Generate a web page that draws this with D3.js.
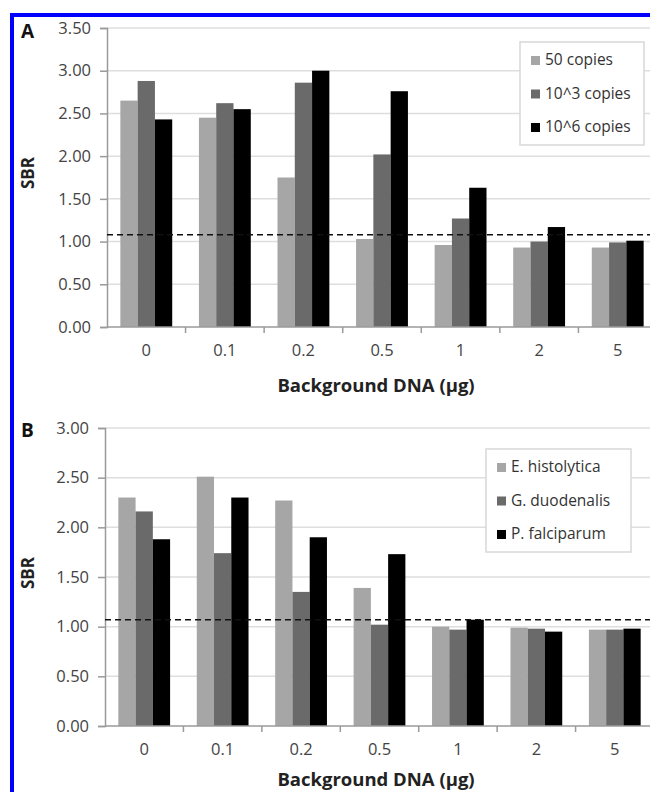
<!DOCTYPE html>
<html>
<head>
<meta charset="utf-8">
<script src="https://cdn.jsdelivr.net/npm/d3@7"></script>
<style>
  html, body { margin: 0; padding: 0; background: #fff; }
  svg { display: block; }
  text { font-family: "Open Sans", Lato, sans-serif; }
</style>
</head>
<body>
<script>
const categories = ["0", "0.1", "0.2", "0.5", "1", "2", "5"];

const seriesA = ["50 copies", "10^3 copies", "10^6 copies"];
const valuesA50 = [2.65, 2.45, 1.75, 1.03, 0.96, 0.93, 0.93];
const valuesA1e3 = [2.88, 2.62, 2.86, 2.02, 1.27, 1.00, 0.99];
const valuesA1e6 = [2.43, 2.55, 3.00, 2.76, 1.63, 1.17, 1.01];
const ticksA = [0, 0.5, 1, 1.5, 2, 2.5, 3, 3.5];
const thresholdA = 1.08;

const seriesB = ["E. histolytica", "G. duodenalis", "P. falciparum"];
const valuesBEh = [2.30, 2.51, 2.27, 1.39, 1.00, 0.99, 0.97];
const valuesBGd = [2.16, 1.74, 1.35, 1.02, 0.97, 0.98, 0.97];
const valuesBPf = [1.88, 2.30, 1.90, 1.73, 1.07, 0.95, 0.98];
const ticksB = [0, 0.5, 1, 1.5, 2, 2.5, 3];
const thresholdB = 1.07;

const colors = ["#a6a6a6", "#6a6a6a", "#000000"];
const xTitle = "Background DNA (µg)";

const W = 650, H = 792;
const svg = d3.select("body").append("svg").attr("width", W).attr("height", H);
svg.append("rect").attr("width", W).attr("height", H).attr("fill", "#fff");

function panel(cfg) {
  const g = svg.append("g");
  const x = d3.scaleBand().domain(categories).range([cfg.left, cfg.right]).paddingInner(0.34).paddingOuter(0.17);
  const y = d3.scaleLinear().domain([0, cfg.max]).range([cfg.bottom, cfg.top]);
  const inner = d3.scaleBand().domain(cfg.series).range([0, x.bandwidth()]);

  // gridlines
  g.selectAll(".grid").data(cfg.ticks.filter(t => t > 0)).join("line")
    .attr("x1", cfg.left).attr("x2", W)
    .attr("y1", d => y(d)).attr("y2", d => y(d))
    .attr("stroke", "#dedede").attr("stroke-width", 1.5);

  // bars
  const data = cfg.series.map((s, i) => ({ s, i, vals: cfg.values[i] }));
  data.forEach(ser => {
    g.selectAll(null).data(categories).join("rect")
      .attr("x", (c) => x(c) + inner(ser.s))
      .attr("width", inner.bandwidth())
      .attr("y", (c, j) => y(ser.vals[j]))
      .attr("height", (c, j) => y(0) - y(ser.vals[j]))
      .attr("fill", colors[ser.i]);
  });

  // y axis
  const yAxis = d3.axisLeft(y).tickValues(cfg.ticks).tickFormat(d3.format(".2f")).tickSize(7).tickPadding(9);
  const ya = g.append("g").attr("transform", `translate(${cfg.left},0)`).call(yAxis);
  ya.select(".domain").attr("stroke", "#9a9a9a").attr("stroke-width", 1.5);
  ya.selectAll(".tick line").attr("stroke", "#9a9a9a").attr("stroke-width", 1.5);
  ya.selectAll(".tick text").attr("font-size", 16.5).attr("fill", "#444")
    .attr("font-family", "'Open Sans', sans-serif");

  // x axis baseline
  g.append("line").attr("x1", cfg.left).attr("x2", W)
    .attr("y1", y(0)).attr("y2", y(0)).attr("stroke", "#9a9a9a").attr("stroke-width", 1.5);

  // boundary ticks
  const step = x.step();
  g.selectAll(".bt").data(categories).join("line")
    .attr("x1", c => x(c) + x.bandwidth() + (step - x.bandwidth()) / 2)
    .attr("x2", c => x(c) + x.bandwidth() + (step - x.bandwidth()) / 2)
    .attr("y1", y(0)).attr("y2", y(0) + 6)
    .attr("stroke", "#9a9a9a").attr("stroke-width", 1.5);

  // x labels
  const xAxis = d3.axisBottom(x).tickSize(0).tickPadding(17);
  const xa = g.append("g").attr("transform", `translate(0,${cfg.bottom})`).call(xAxis);
  xa.select(".domain").remove();
  xa.selectAll(".tick text").attr("font-size", 16.5).attr("fill", "#444")
    .attr("font-family", "'Open Sans', sans-serif");

  // threshold dashed line
  g.append("line").attr("x1", cfg.left).attr("x2", W)
    .attr("y1", y(cfg.threshold)).attr("y2", y(cfg.threshold))
    .attr("stroke", "#111").attr("stroke-width", 1.5).attr("stroke-dasharray", "6,4");

  // axis titles
  g.append("text").attr("x", 376).attr("y", cfg.xTitleY).attr("text-anchor", "middle")
    .attr("font-size", 18.5).attr("font-weight", "bold").attr("fill", "#222").text(xTitle);
  g.append("text").attr("transform", `translate(34,${cfg.yTitleY}) rotate(-90)`)
    .attr("text-anchor", "middle").attr("font-size", 17).attr("font-weight", "bold").attr("fill", "#222").text("SBR");
  g.append("text").attr("x", 21).attr("y", cfg.letterY).attr("font-size", 19).attr("font-weight", "bold")
    .attr("fill", "#111").text(cfg.letter);

  // legend
  const L = cfg.legend;
  g.append("rect").attr("x", L.x).attr("y", L.y).attr("width", L.w).attr("height", L.h)
    .attr("fill", "#fff").attr("stroke", "#d8d8d8").attr("stroke-width", 1.5);
  const li = g.selectAll(".li").data(cfg.series).join("g")
    .attr("transform", (d, i) => `translate(${L.x + 11},${L.y + 18 + i * 33.5})`);
  li.append("rect").attr("x", 0).attr("y", -4).attr("width", 9).attr("height", 9)
    .attr("fill", (d, i) => colors[i]);
  li.append("text").attr("x", 14).attr("y", 0).attr("dy", "0.35em")
    .attr("font-size", 15.5).attr("fill", "#333").text(d => d);
}

panel({
  letter: "A", letterY: 38,
  left: 107, right: 657, top: 28, bottom: 327, max: 3.5,
  ticks: ticksA, series: seriesA, values: [valuesA50, valuesA1e3, valuesA1e6],
  threshold: thresholdA, xTitleY: 392, yTitleY: 173,
  legend: { x: 520, y: 42, w: 124, h: 103 }
});

panel({
  letter: "B", letterY: 437,
  left: 105, right: 654, top: 428, bottom: 726, max: 3.0,
  ticks: ticksB, series: seriesB, values: [valuesBEh, valuesBGd, valuesBPf],
  threshold: thresholdB, xTitleY: 786, yTitleY: 573,
  legend: { x: 486, y: 449, w: 145, h: 103 }
});

// blue frame
svg.append("line").attr("x1", 10).attr("x2", W).attr("y1", 15).attr("y2", 15)
  .attr("stroke", "#0000ff").attr("stroke-width", 4);
svg.append("line").attr("x1", 12).attr("x2", 12).attr("y1", 13).attr("y2", H)
  .attr("stroke", "#0000ff").attr("stroke-width", 4);
</script>
</body>
</html>
